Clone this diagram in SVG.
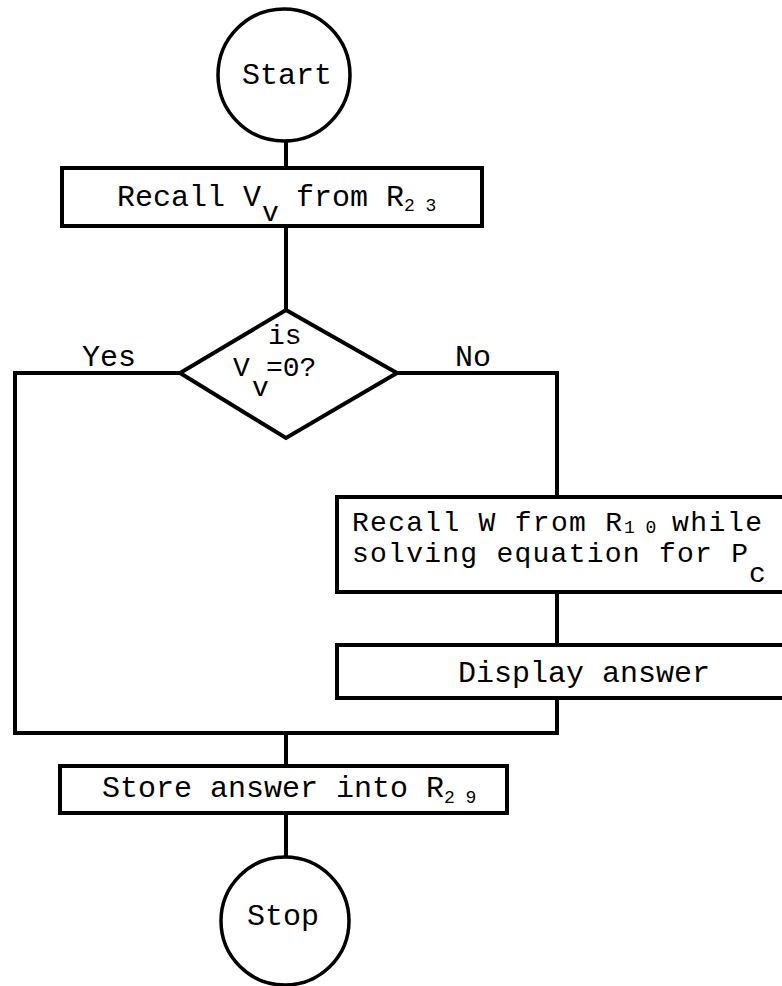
<svg xmlns="http://www.w3.org/2000/svg" width="782" height="986" viewBox="0 0 782 986">
<style>
.s{fill:#fff;stroke:#000;stroke-width:4;stroke-linejoin:miter}
.c{fill:#fff;stroke:#000;stroke-width:3.5}
.ln{fill:none;stroke:#000;stroke-width:4;stroke-linejoin:miter}
text{font-family:"Liberation Mono","Courier New",monospace;font-size:30px;fill:#000}
.sub{font-size:18px}
.t2{font-size:28px}
</style>
<rect width="782" height="986" fill="#fff"/>
<g id="connectors">
<line class="ln" x1="286" y1="141" x2="286" y2="168"/>
<line class="ln" x1="286" y1="226" x2="286" y2="310"/>
<polyline class="ln" points="180,373 15,373 15,733 557,733 557,698"/>
<polyline class="ln" points="397,373 557,373 557,497"/>
<line class="ln" x1="557" y1="592" x2="557" y2="645"/>
<line class="ln" x1="286" y1="733" x2="286" y2="766"/>
<line class="ln" x1="286" y1="813" x2="286" y2="857"/>
<text x="82" y="366">Yes</text>
<text x="455" y="366">No</text>
</g>
<g id="start">
<circle class="c" cx="284" cy="75" r="66"/>
<text x="242" y="84">Start</text>
</g>
<g id="recall-vv">
<rect class="s" x="62" y="168" width="420" height="58"/>
<text x="117" y="206">Recall V</text>
<text class="t2" x="262" y="221">v</text>
<text x="296" y="206">from R</text>
<text class="sub" x="404" y="211">2 3</text>
</g>
<g id="decision">
<polygon class="s" points="286,310 397,373 286,438 180,373"/>
<text class="t2" x="268" y="344">is</text>
<text class="t2" x="233" y="376">V</text>
<text class="t2" x="252" y="396">v</text>
<text class="t2" x="266" y="376">=0?</text>
</g>
<g id="recall-w">
<rect class="s" x="337" y="497" width="460" height="95"/>
<text class="t2" x="352" y="531" textLength="270" lengthAdjust="spacing">Recall W from R</text>
<text class="sub" x="624" y="533">1 0</text>
<text class="t2" x="672" y="531" textLength="90" lengthAdjust="spacing">while</text>
<text class="t2" x="352" y="562" textLength="396" lengthAdjust="spacing">solving equation for P</text>
<text class="t2" x="749" y="582">c</text>
</g>
<g id="display">
<rect class="s" x="337" y="645" width="460" height="53"/>
<text x="458" y="682">Display answer</text>
</g>
<g id="store">
<rect class="s" x="60" y="766" width="447" height="47"/>
<text x="102" y="797">Store answer into R</text>
<text class="sub" x="444" y="803">2 9</text>
</g>
<g id="stop">
<circle class="c" cx="285" cy="921" r="64"/>
<text x="247" y="925">Stop</text>
</g>
</svg>
